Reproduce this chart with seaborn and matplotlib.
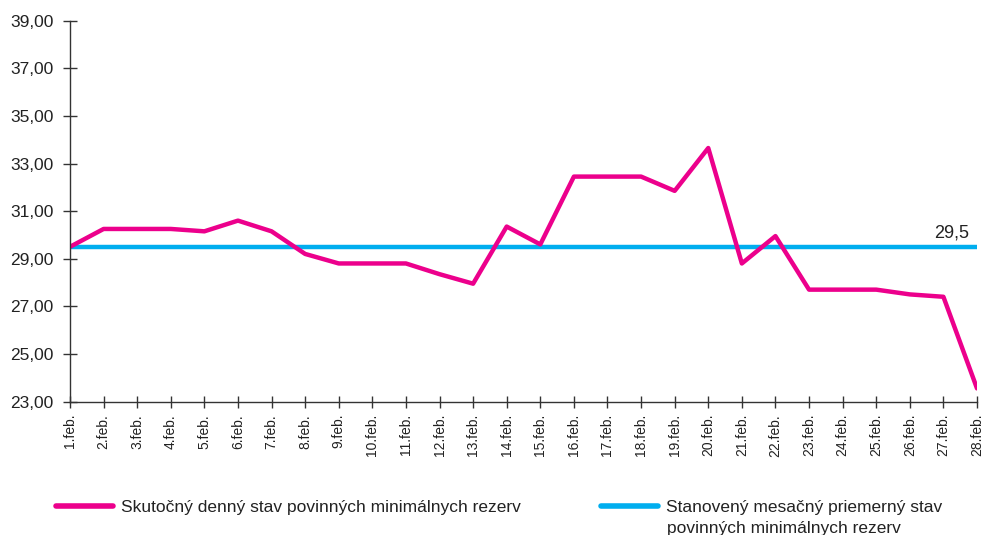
import matplotlib
matplotlib.use("Agg")
import matplotlib.pyplot as plt
import seaborn as sns
import pandas as pd
from matplotlib.ticker import FuncFormatter
from matplotlib.lines import Line2D

days = [f"{i}.feb." for i in range(1, 29)]
actual = [29.5, 30.25, 30.25, 30.25, 30.15, 30.6, 30.15, 29.2, 28.8, 28.8,
          28.8, 28.35, 27.95, 30.35, 29.6, 32.45, 32.45, 32.45, 31.85, 33.65,
          28.8, 29.95, 27.7, 27.7, 27.7, 27.5, 27.4, 23.55]
target_value = 29.5
target = [target_value] * len(days)
y_ticks = [23, 25, 27, 29, 31, 33, 35, 37, 39]
legend_actual = "Skutočný denný stav povinných minimálnych rezerv"
legend_target_1 = "Stanovený mesačný priemerný stav"
legend_target_2 = "povinných minimálnych rezerv"

MAGENTA = "#EC008C"
CYAN = "#00AEEF"
TXT = "#222222"

sns.set_style("white")
plt.rcParams['font.family'] = ['Liberation Sans', 'DejaVu Sans']

W, H = 984, 535
fig = plt.figure(figsize=(W / 100, H / 100), dpi=100)
ax_l, ax_r, ax_t, ax_b = 70, 977, 20.7, 401.5
ax = fig.add_axes([ax_l / W, 1 - ax_b / H, (ax_r - ax_l) / W, (ax_b - ax_t) / H])

df = pd.DataFrame({"day": days, "actual": actual, "target": target})
df["pos"] = range(len(days))

sns.lineplot(data=df, x="pos", y="target", color=CYAN, linewidth=3.2, ax=ax, legend=False)
sns.lineplot(data=df, x="pos", y="actual", color=MAGENTA, linewidth=3.2, ax=ax, legend=False)

ax.set_xlim(0, len(days) - 1)
ax.set_ylim(23, 39)
ax.set_yticks(y_ticks)
ax.yaxis.set_major_formatter(FuncFormatter(lambda v, p: f"{v:.2f}".replace(".", ",")))
ax.set_xticks(df["pos"])
ax.set_xticklabels(days, rotation=90, fontsize=10, color=TXT)
ax.tick_params(axis="both", which="major", bottom=True, left=True, direction="inout",
               width=1, color="#333333")
ax.tick_params(axis="y", labelsize=12.5, labelcolor=TXT, length=10, pad=7)
ax.tick_params(axis="x", length=8, pad=5)
ax.set_xlabel("")
ax.set_ylabel("")
for s in ["top", "right"]:
    ax.spines[s].set_visible(False)
for s in ["left", "bottom"]:
    ax.spines[s].set_color("#333333")
    ax.spines[s].set_linewidth(1)
ax.grid(False)

ax.annotate(f"{target_value}".replace(".", ","), xy=(26.23, target_value),
            xytext=(0, 6.5), textcoords="offset points", ha="center", va="baseline",
            fontsize=13, color=TXT)

h1 = Line2D([], [], color=MAGENTA, linewidth=4)
h2 = Line2D([], [], color=CYAN, linewidth=4)
common = dict(frameon=False, fontsize=12.5, handlelength=3.28, handletextpad=0.46,
              labelcolor=TXT, borderpad=0, borderaxespad=0, loc="center left")
fig.legend([h1], [legend_actual], bbox_to_anchor=(56 / W, 1 - 507.5 / H), **common)
fig.legend([h2], [legend_target_1], bbox_to_anchor=(601 / W, 1 - 507.5 / H), **common)
fig.text(667 / W, 1 - 533.5 / H, legend_target_2, fontsize=12.5, color=TXT,
         ha="left", va="baseline")

fig.savefig("out.png", dpi=100)
